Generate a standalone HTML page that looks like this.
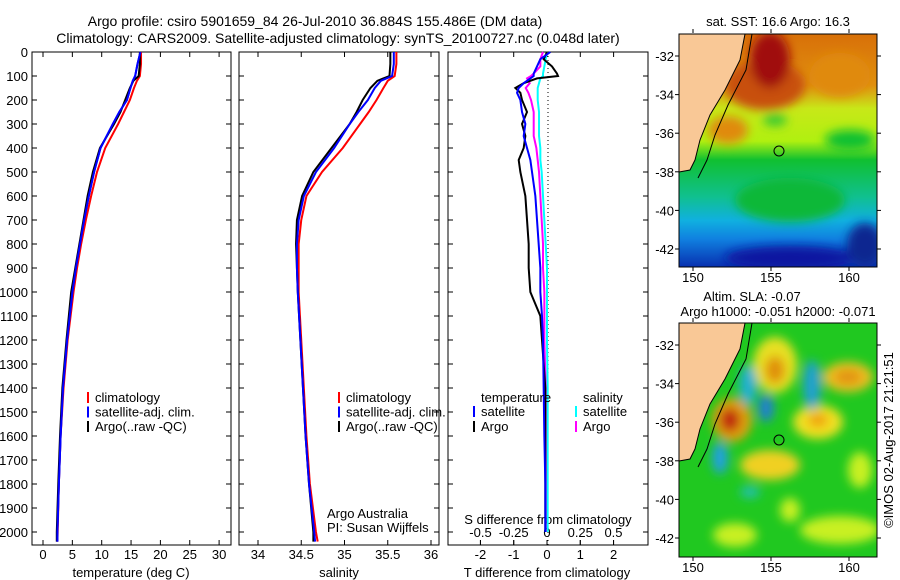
<!DOCTYPE html>
<html><head><meta charset="utf-8"><style>
body{margin:0;background:#fff;}
svg{display:block;font-family:"Liberation Sans",sans-serif;}
</style></head><body>
<svg id="c" width="900" height="580" viewBox="0 0 900 580">
<defs>
<filter id="bl" x="-50%" y="-50%" width="200%" height="200%"><feGaussianBlur stdDeviation="5"/></filter>
<clipPath id="m1c"><rect x="679" y="34" width="198" height="233"/></clipPath>
<clipPath id="m2c"><rect x="679" y="323" width="198" height="234"/></clipPath>
<linearGradient id="sstg" x1="0" y1="0" x2="0" y2="1">
<stop offset="0" stop-color="#d87008"/><stop offset="0.22" stop-color="#e09010"/><stop offset="0.32" stop-color="#c8e818"/><stop offset="0.46" stop-color="#b0f010"/>
<stop offset="0.54" stop-color="#10c030"/><stop offset="0.7" stop-color="#10c090"/><stop offset="0.8" stop-color="#10b0e0"/><stop offset="0.88" stop-color="#1080e0"/><stop offset="1" stop-color="#0830b0"/></linearGradient>
</defs>
<g font-size="14" text-anchor="middle" fill="#000">
<text x="315" y="26">Argo profile: csiro 5901659_84 26-Jul-2010 36.884S 155.486E (DM data)</text>
<text x="338" y="43">Climatology: CARS2009. Satellite-adjusted climatology: synTS_20100727.nc (0.048d later)</text>
</g>
<g id="panels"></g>

<g>
<g clip-path="url(#m1c)">
<rect x="679" y="34" width="198" height="233" fill="url(#sstg)"/>
<g filter="url(#bl)">
<ellipse cx="840" cy="75" rx="30" ry="22" fill="#e08a10"/>
<ellipse cx="765" cy="85" rx="40" ry="25" fill="#c85008"/>
<ellipse cx="770" cy="60" rx="20" ry="28" fill="#a00808"/>
<ellipse cx="728" cy="130" rx="20" ry="14" fill="#e08a10"/>
<ellipse cx="775" cy="120" rx="12" ry="6" fill="#30c830"/>
<ellipse cx="850" cy="140" rx="25" ry="10" fill="#10c030"/>
<ellipse cx="790" cy="200" rx="55" ry="22" fill="#10b838"/>
<ellipse cx="790" cy="258" rx="65" ry="12" fill="#0818a0"/>
<ellipse cx="865" cy="245" rx="18" ry="22" fill="#082890"/>
</g>
<polygon points="679,34 745,34 740,60 725,90 710,115 700,140 695,160 690,170 679,172" fill="#f9c896"/>
<polyline points="745,34 740,60 725,90 710,115 700,140 695,160 690,170 679,172" fill="none" stroke="#000" stroke-width="1"/>
<polyline points="752,34 746,70 728,105 715,135 707,160 698,178" fill="none" stroke="#000" stroke-width="1"/>
<circle cx="779" cy="151" r="5" fill="none" stroke="#000"/>
</g>
<rect x="679" y="34" width="198" height="233" fill="none" stroke="#000"/>
</g>
<g>
<g clip-path="url(#m2c)">
<rect x="679" y="323" width="198" height="234" fill="#20c820"/>
<g filter="url(#bl)">
<ellipse cx="775" cy="365" rx="22" ry="28" fill="#e8e020"/>
<ellipse cx="775" cy="370" rx="10" ry="14" fill="#e09010"/>
<ellipse cx="848" cy="377" rx="25" ry="15" fill="#f0c020"/>
<ellipse cx="848" cy="377" rx="14" ry="7" fill="#e09010"/>
<ellipse cx="732" cy="420" rx="20" ry="22" fill="#e0a010"/>
<ellipse cx="730" cy="420" rx="10" ry="12" fill="#c02808"/>
<ellipse cx="818" cy="422" rx="25" ry="17" fill="#f0e020"/>
<ellipse cx="818" cy="420" rx="10" ry="7" fill="#f0a010"/>
<ellipse cx="770" cy="465" rx="30" ry="15" fill="#f0d020"/>
<ellipse cx="748" cy="385" rx="9" ry="20" fill="#20b0d0"/>
<ellipse cx="766" cy="408" rx="8" ry="14" fill="#2080d0"/>
<ellipse cx="812" cy="385" rx="9" ry="25" fill="#20a0d0"/>
<ellipse cx="720" cy="458" rx="8" ry="16" fill="#20a0e0"/>
<ellipse cx="750" cy="492" rx="10" ry="6" fill="#20c0b0"/>
<ellipse cx="840" cy="530" rx="40" ry="14" fill="#c8f020"/>
<ellipse cx="735" cy="535" rx="22" ry="12" fill="#c8f020"/>
<ellipse cx="860" cy="470" rx="12" ry="18" fill="#c8f020"/>
<ellipse cx="790" cy="510" rx="10" ry="12" fill="#c8f020"/>
</g>
<polygon points="679,323 745,323 740,349 725,379 710,404 700,429 695,449 690,459 679,461" fill="#f9c896"/>
<polyline points="745,323 740,349 725,379 710,404 700,429 695,449 690,459 679,461" fill="none" stroke="#000"/>
<polyline points="752,323 746,359 728,394 715,424 707,449 698,467" fill="none" stroke="#000"/>
<circle cx="779" cy="440" r="5" fill="none" stroke="#000"/>
</g>
<rect x="679" y="323" width="198" height="234" fill="none" stroke="#000"/>
</g>
<g font-size="13" fill="#000">
<text x="778" y="26" text-anchor="middle">sat. SST: 16.6 Argo: 16.3</text>
<text x="752" y="301" text-anchor="middle">Altim. SLA: -0.07</text>
<text x="778" y="316" text-anchor="middle">Argo h1000: -0.051 h2000: -0.071</text>
<text transform="translate(893,440) rotate(-90)" text-anchor="middle">©IMOS 02-Aug-2017 21:21:51</text>
</g>
<g id="mapticks" font-size="13"></g>
</svg>
<script>
const depth=[0,50,100,120,150,200,250,300,400,500,600,700,800,900,1000,1200,1400,1600,1800,2000,2040];
const tClim=[16.7,16.7,16.5,16.0,15.5,14.8,13.8,12.8,10.6,9.2,8.2,7.3,6.5,5.8,5.2,4.2,3.5,3.0,2.7,2.5,2.45];
const tSat=[16.6,16.1,15.7,15.3,14.9,14.3,13.0,11.9,9.8,8.7,7.8,7.0,6.3,5.6,5.0,4.1,3.4,3.0,2.7,2.45,2.45];
const tArgo=[16.5,16.5,16.3,15.4,14.8,14.0,13.2,12.1,9.7,8.5,7.6,6.9,6.2,5.5,4.8,4.0,3.3,2.9,2.6,2.35,2.35];
const sClim=[35.6,35.6,35.58,35.5,35.45,35.37,35.28,35.18,34.98,34.74,34.56,34.5,34.47,34.47,34.47,34.5,34.53,34.56,34.6,34.67,34.69];
const sSat=[35.57,35.57,35.55,35.42,35.35,35.27,35.16,35.06,34.88,34.67,34.53,34.47,34.45,34.45,34.46,34.49,34.52,34.55,34.59,34.65,34.66];
const sArgo=[35.53,35.53,35.52,35.38,35.3,35.21,35.14,35.06,34.85,34.64,34.51,34.45,34.44,34.45,34.46,34.49,34.52,34.55,34.59,34.64,34.64];
const dDepth=[0,30,60,90,100,110,130,150,170,200,250,300,350,400,450,500,600,700,800,900,1000,1100,1200,1400,1600,1800,2000];
const tdArgo=[0.0,-0.1,0.15,0.3,0.33,-0.3,-0.7,-0.95,-0.8,-0.75,-0.6,-0.75,-0.65,-0.7,-0.85,-0.8,-0.65,-0.6,-0.55,-0.55,-0.5,-0.2,-0.15,-0.05,-0.05,-0.05,-0.05];
const tdSat=[0.1,-0.2,-0.3,-0.4,-0.4,-0.5,-0.7,-0.85,-0.9,-0.8,-0.75,-0.65,-0.7,-0.6,-0.5,-0.45,-0.35,-0.3,-0.25,-0.2,-0.2,-0.15,-0.12,-0.1,-0.08,-0.05,-0.05];
const sdArgo=[-0.03,-0.05,-0.05,-0.1,-0.12,-0.15,-0.13,-0.16,-0.14,-0.12,-0.1,-0.1,-0.1,-0.08,-0.07,-0.06,-0.05,-0.04,-0.03,-0.03,-0.02,-0.02,-0.02,-0.01,-0.01,-0.01,-0.01];
const sdSat=[0.0,-0.01,-0.02,-0.03,-0.03,-0.05,-0.06,-0.07,-0.07,-0.07,-0.06,-0.06,-0.06,-0.05,-0.05,-0.04,-0.03,-0.02,-0.01,0,0,0,0,0.005,0.005,0.005,0.005];
const depthTicks=[0,100,200,300,400,500,600,700,800,900,1000,1100,1200,1300,1400,1500,1600,1700,1800,1900,2000];
const tTicks=[0,5,10,15,20,25,30];
const sTicks=[34,34.5,35,35.5,36];
const tdTicks=[-2,-1,0,1,2];
const sdTicks=[-0.5,-0.25,0,0.25,0.5];
const lonTicks=[150,155,160];
const latTicks=[-32,-34,-36,-38,-40,-42];

const NS='http://www.w3.org/2000/svg';
const G=document.getElementById('panels');
const yD=d=>52+d*0.24;
const xT=v=>43+v*5.87;
const xS=v=>258+(v-34)*86.5;
const xTD=v=>547+v*33.3;
const xSD=v=>547+v*133;
function mk(tag,at,par){const e=document.createElementNS(NS,tag);for(const k in at)e.setAttribute(k,at[k]);(par||G).appendChild(e);return e;}
function txt(x,y,s,anchor,name,par,size){const e=mk('text',{x:x,y:y,'text-anchor':anchor||'middle','font-size':size||13},par);e.textContent=s;


return e;}
const boxes=[[32,231],[239,439],[448,648]];
boxes.forEach((b,i)=>{
 const r=mk('rect',{x:b[0],y:52,width:b[1]-b[0],height:493,fill:'none',stroke:'#000'});
 
 
 depthTicks.forEach(d=>{const y=yD(d);
  mk('line',{x1:b[0],x2:b[0]+5,y1:y,y2:y,stroke:'#000'});
  mk('line',{x1:b[1],x2:b[1]-5,y1:y,y2:y,stroke:'#000'});});
});
depthTicks.forEach(d=>txt(28,yD(d)+5,String(d),'end','depth-tick-label'));
function xticks(arr,fx,b,y,name,fmt){arr.forEach(v=>{const x=fx(v);
 mk('line',{x1:x,x2:x,y1:545,y2:540,stroke:'#000'});mk('line',{x1:x,x2:x,y1:52,y2:57,stroke:'#000'});
 txt(x,y,fmt?fmt(v):String(v),'middle',name);});}
xticks(tTicks,xT,boxes[0],559,'temperature-tick-label');
xticks(sTicks,xS,boxes[1],559,'salinity-tick-label');
xticks(tdTicks,xTD,boxes[2],559,'t-diff-tick-label');
sdTicks.forEach(v=>{const x=xSD(v);mk('line',{x1:x,x2:x,y1:545,y2:540,stroke:'#000'});txt(x,537,String(v),'middle','s-diff-tick-label');});
txt(131,577,'temperature (deg C)','middle','temperature-axis-title');
txt(339,577,'salinity','middle','salinity-axis-title');
txt(547,577,'T difference from climatology','middle','t-diff-axis-title');
txt(548,524,'S difference from climatology','middle','s-diff-axis-title');
txt(327,518,'Argo Australia','start','credit-argo-australia');
txt(327,532,'PI: Susan Wijffels','start','credit-pi');
mk('line',{x1:548,x2:548,y1:52,y2:545,stroke:'#000','stroke-dasharray':'1,3'});
function line(xs,ys,fx,col,name,w){const p=mk('polyline',{points:xs.map((v,i)=>fx(v)+','+yD(ys[i])).join(' '),fill:'none',stroke:col,'stroke-width':w||2});

}
line(tClim,depth,xT,'#f00','temp-climatology');line(tSat,depth,xT,'#00f','temp-satellite-adj');line(tArgo,depth,xT,'#000','temp-argo');
line(tSat,depth,xT,'#00f','temp-satellite-adj-top');
line(sClim,depth,xS,'#f00','sal-climatology');line(sArgo,depth,xS,'#000','sal-argo');line(sSat,depth,xS,'#00f','sal-satellite-adj');
line(sdSat,dDepth,xSD,'#0ff','sdiff-satellite');line(sdArgo,dDepth,xSD,'#f0f','sdiff-argo');
line(tdArgo,dDepth,xTD,'#000','tdiff-argo');line(tdSat,dDepth,xTD,'#00f','tdiff-satellite');
function leg(x,y,col,label,name){const l=mk('line',{x1:x,x2:x,y1:y-10,y2:y+1,stroke:col,'stroke-width':2});


txt(x+7,y,label,'start',name);}
[[0,'climatology','#f00'],[1,'satellite-adj. clim.','#00f'],[2,'Argo(..raw -QC)','#000']].forEach(a=>{
 leg(88,402+a[0]*14.5,a[2],a[1],'legend-temp-'+a[0]);leg(339,402+a[0]*14.5,a[2],a[1],'legend-sal-'+a[0]);});
txt(481,402,'temperature','start','legend-diff-temperature');txt(583,402,'salinity','start','legend-diff-salinity');
leg(474,416,'#00f','satellite','legend-tdiff-satellite');leg(474,431,'#000','Argo','legend-tdiff-argo');
leg(576,416,'#0ff','satellite','legend-sdiff-satellite');leg(576,431,'#f0f','Argo','legend-sdiff-argo');
const MT=document.getElementById('mapticks');
const xL=v=>693+(v-150)*15.6;
[[34,267,56,282],[323,557,345,572]].forEach((m,mi)=>{
 lonTicks.forEach(v=>{const x=xL(v);mk('line',{x1:x,x2:x,y1:m[0]-1,y2:m[0]-5,stroke:'#000'},MT);mk('line',{x1:x,x2:x,y1:m[1],y2:m[1]+4,stroke:'#000'},MT);txt(x,m[3],String(v),'middle','map'+(mi+1)+'-lon-label',MT);});
 latTicks.forEach(v=>{const y=m[2]+(-32-v)*19.3;mk('line',{x1:675,x2:679,y1:y,y2:y,stroke:'#000'},MT);mk('line',{x1:877,x2:881,y1:y,y2:y,stroke:'#000'},MT);txt(674,y+5,String(v),'end','map'+(mi+1)+'-lat-label',MT);});
});
</script>
</body></html>
